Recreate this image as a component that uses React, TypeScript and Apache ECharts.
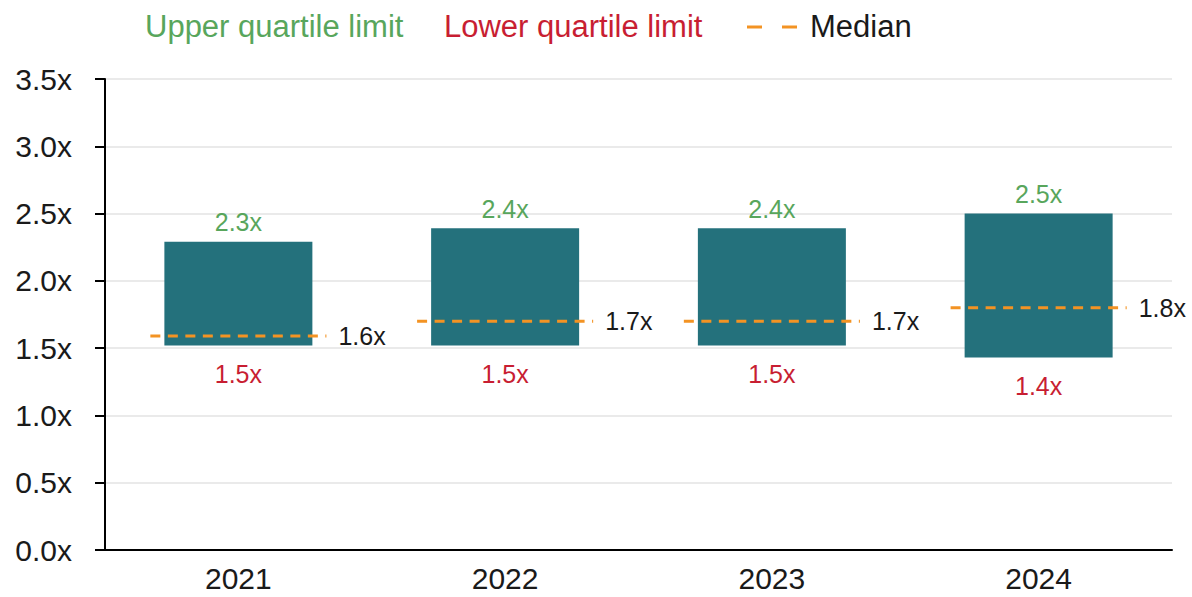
import React, { useEffect, useRef } from "react";
import * as echarts from "echarts";

const categories = ["2021", "2022", "2023", "2024"];
const lowerQuartile = [1.52, 1.52, 1.52, 1.43];
const upperQuartile = [2.29, 2.39, 2.39, 2.5];
const medians = [1.59, 1.7, 1.7, 1.8];
const yTicks = { min: 0, max: 3.5, interval: 0.5 };

const FONT = "'Liberation Sans', Arial, sans-serif";
const BAR = "#24717c";
const GREEN = "#58a65c";
const RED = "#c81e32";
const ORANGE = "#f39323";
const INK = "#1a1a1a";

export default function App() {
  const ref = useRef<HTMLDivElement>(null);
  useEffect(() => {
    if (!ref.current) return;
    const chart = echarts.init(ref.current, null, { renderer: "svg" });
    const fmt = (v: number) => v.toFixed(1) + "x";
    chart.setOption({
      animation: false,
      textStyle: { fontFamily: FONT },
      grid: { left: 105, right: 20, top: 79, bottom: 47, containLabel: false },
      xAxis: {
        type: "category",
        data: categories,
        axisLine: { show: true, lineStyle: { color: "#000", width: 2 } },
        axisTick: { show: false },
        axisLabel: { fontSize: 30, color: INK, margin: 13, fontFamily: FONT },
        splitLine: { show: false },
      },
      yAxis: {
        type: "value",
        min: yTicks.min,
        max: yTicks.max,
        interval: yTicks.interval,
        axisLine: { show: true, lineStyle: { color: "#000", width: 2 } },
        axisTick: { show: true, length: 10, lineStyle: { color: "#000", width: 2 } },
        axisLabel: { fontSize: 30, color: INK, margin: 33, fontFamily: FONT, formatter: (v: number) => fmt(v) },
        splitLine: { show: true, lineStyle: { color: "#e3e3e3", width: 1.5 } },
      },
      graphic: [
        { type: "text", left: 145, top: 11, style: { text: "Upper quartile limit", fill: GREEN, fontSize: 31, fontFamily: FONT } },
        { type: "text", left: 444, top: 11, style: { text: "Lower quartile limit", fill: RED, fontSize: 31, fontFamily: FONT } },
        { type: "line", shape: { x1: 747, y1: 27, x2: 762, y2: 27 }, style: { stroke: ORANGE, lineWidth: 3 } },
        { type: "line", shape: { x1: 782, y1: 27, x2: 797, y2: 27 }, style: { stroke: ORANGE, lineWidth: 3 } },
        { type: "text", left: 810, top: 11, style: { text: "Median", fill: INK, fontSize: 31, fontFamily: FONT } },
      ],
      series: [
        {
          type: "bar",
          stack: "q",
          data: lowerQuartile,
          barWidth: 148,
          silent: true,
          itemStyle: { color: "rgba(0,0,0,0)" },
          label: {
            show: true,
            position: "insideTop",
            distance: 16,
            color: RED,
            fontSize: 25,
            fontFamily: FONT,
            formatter: (p: any) => fmt(lowerQuartile[p.dataIndex]),
          },
        },
        {
          type: "bar",
          stack: "q",
          data: upperQuartile.map((u, i) => +(u - lowerQuartile[i]).toFixed(4)),
          barWidth: 148,
          itemStyle: { color: BAR },
          label: {
            show: true,
            position: "top",
            distance: 7,
            color: GREEN,
            fontSize: 25,
            fontFamily: FONT,
            formatter: (p: any) => fmt(upperQuartile[p.dataIndex]),
          },
        },
        {
          type: "custom",
          z: 10,
          data: medians.map((m, i) => [i, m]),
          encode: { x: 0, y: 1 },
          renderItem: (params: any, api: any) => {
            const i = api.value(0);
            const m = api.value(1);
            const p = api.coord([i, m]);
            const bw = api.size([1, 0])[0];
            return {
              type: "group",
              children: [
                {
                  type: "line",
                  shape: { x1: p[0] - bw * 0.33, y1: p[1], x2: p[0] + bw * 0.33, y2: p[1] },
                  style: { stroke: ORANGE, lineWidth: 3, lineDash: [10, 7.5] },
                },
                {
                  type: "text",
                  style: {
                    text: fmt(m),
                    x: p[0] + bw * 0.375,
                    y: p[1],
                    fill: INK,
                    fontSize: 25,
                    fontFamily: FONT,
                    align: "left",
                    verticalAlign: "middle",
                  },
                },
              ],
            };
          },
        },
      ],
    });
    return () => chart.dispose();
  }, []);
  return (
    <div
      ref={ref}
      style={{ position: "fixed", left: 0, top: 0, width: 1192, height: 597, background: "#fff" }}
    />
  );
}
